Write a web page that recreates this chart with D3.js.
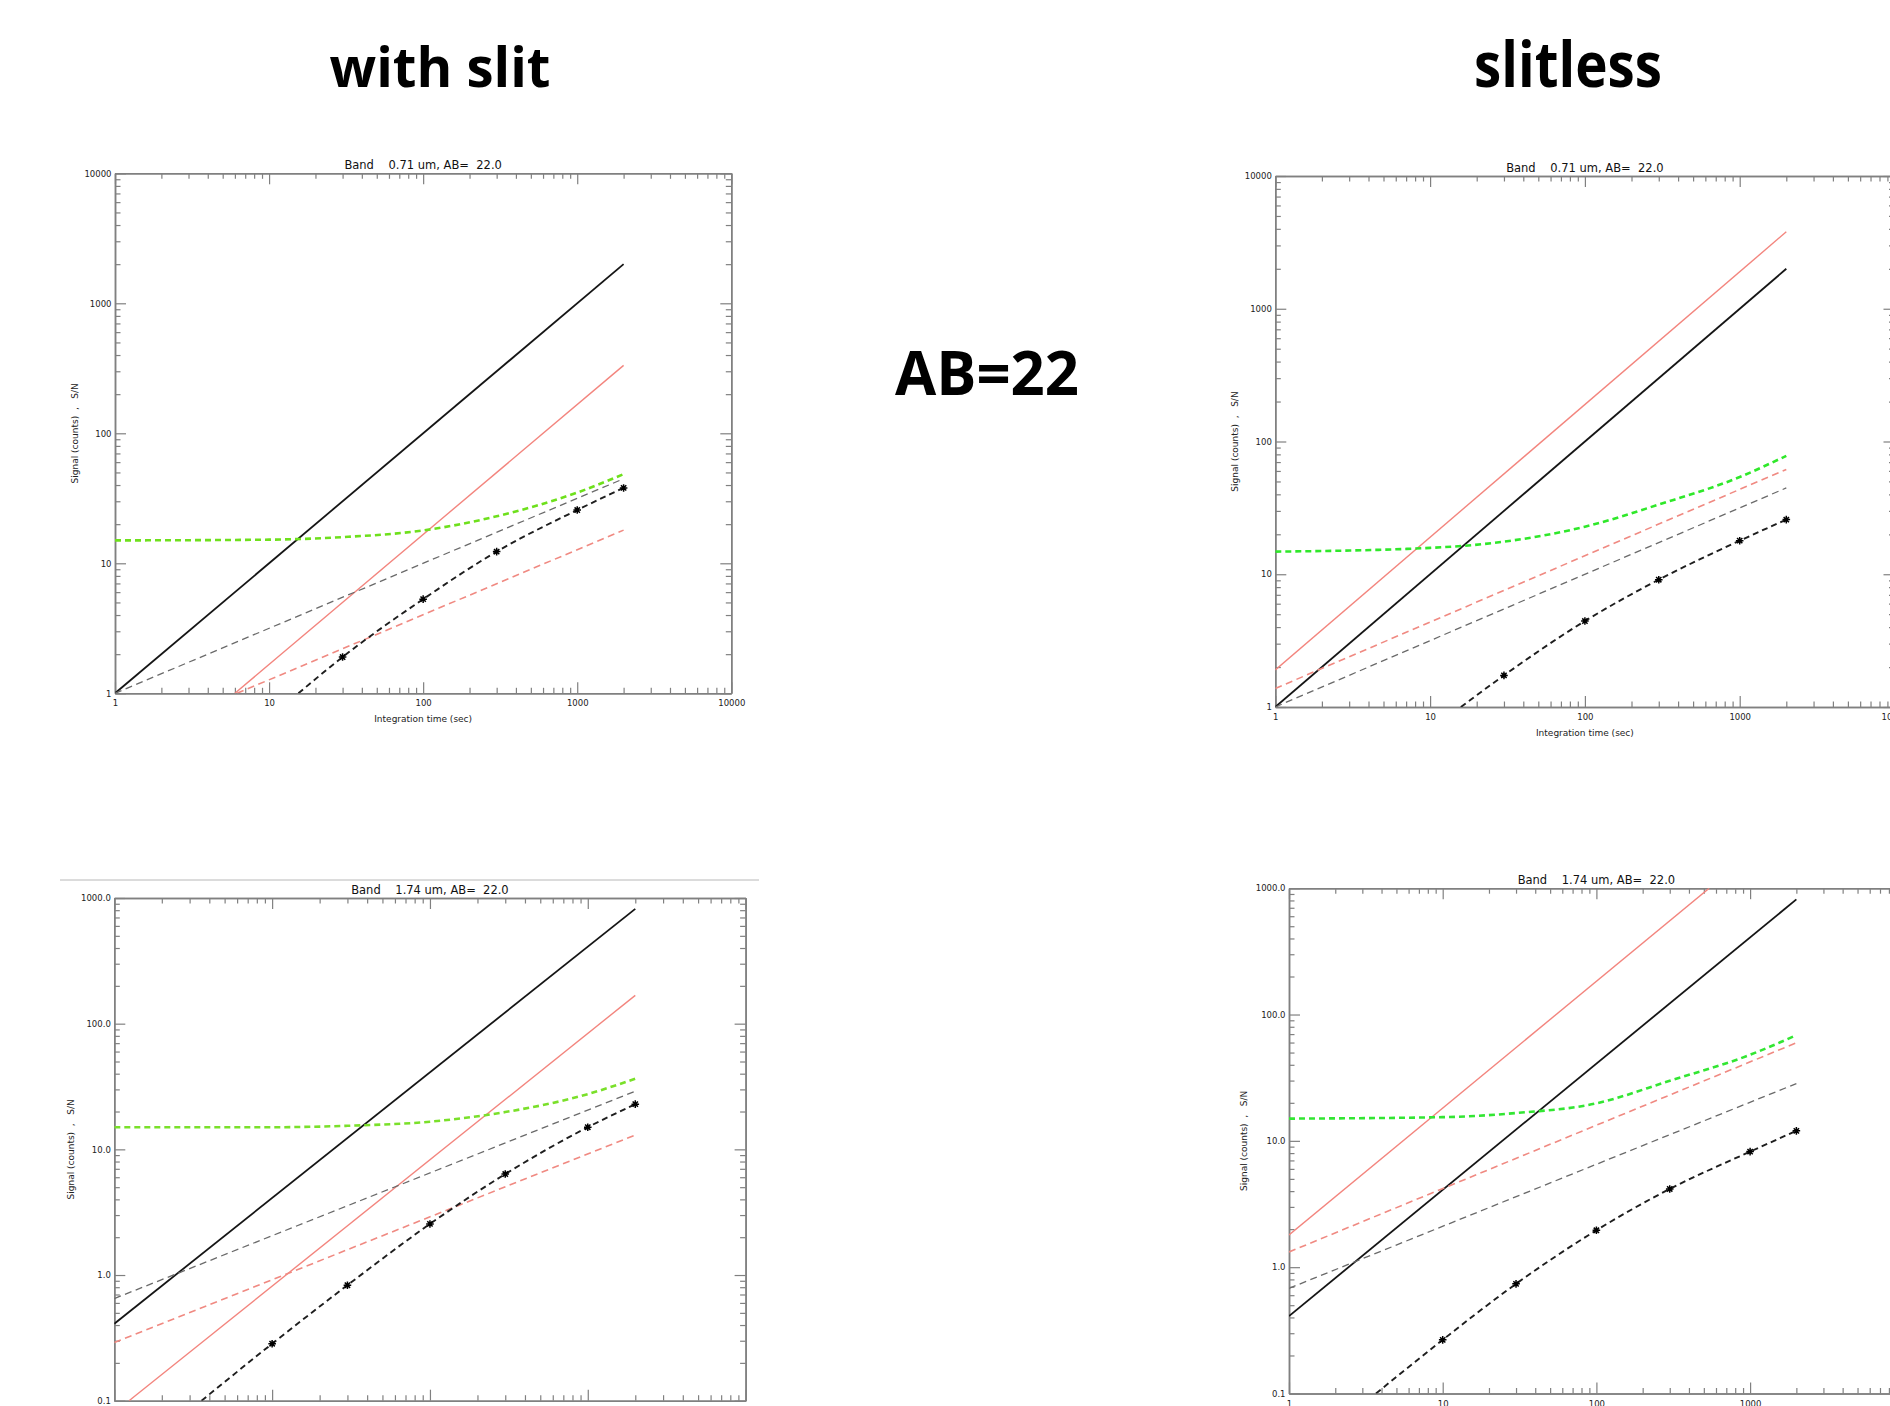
<!DOCTYPE html>
<html>
<head>
<meta charset="utf-8">
<script src="https://cdn.jsdelivr.net/npm/d3@7"></script>
<style>
  html, body { margin: 0; padding: 0; background: #fff; }
  svg { display: block; }
  .tick text { font-family: "DejaVu Sans", sans-serif; font-size: 8.5px; fill: #222; }
</style>
</head>
<body>
<div id="chart"></div>
<script>
// --- Ticks ---
const xMajor = [1, 10, 100, 1000, 10000];
const xLabels = ["1", "10", "100", "1000", "10000"];
const yMajorTop = [1, 10, 100, 1000, 10000];
const yLabelsTop = ["1", "10", "100", "1000", "10000"];
const yMajorBottom = [0.1, 1, 10, 100, 1000];
const yLabelsBottom = ["0.1", "1.0", "10.0", "100.0", "1000.0"];
const markTimes = [10, 30, 100, 300, 1000, 2000];

// --- With slit, 0.71 um : [time (s), value] ---
const slit071Signal = [[1, 1], [2000, 2000]];
const slit071Sky = [[6, 1], [2000, 333]];
const slit071SignalNoise = [[1, 1], [2000, 44.7]];
const slit071SkyNoise = [[6.2, 1], [2000, 18]];
const slit071Total = [[1, 15], [10, 15.2], [30, 15.9], [100, 17.9], [300, 23], [1000, 35], [2000, 48.5]];
const slit071Snr = [[15.5, 1], [30, 1.9], [100, 5.3], [300, 12.3], [1000, 25.7], [2000, 38]];

// --- Slitless, 0.71 um ---
const free071Signal = [[1, 1], [2000, 2000]];
const free071Sky = [[1, 1.9], [2000, 3800]];
const free071SignalNoise = [[1, 1], [2000, 44.7]];
const free071SkyNoise = [[1, 1.38], [2000, 61.6]];
const free071Total = [[1, 14.8], [10, 15.8], [30, 17.6], [100, 22.8], [300, 33.5], [1000, 54], [2000, 78]];
const free071Snr = [[15.8, 1], [30, 1.73], [100, 4.44], [300, 9.1], [1000, 17.9], [2000, 25.8]];

// --- With slit, 1.74 um ---
const slit174Signal = [[1, 0.41], [2000, 820]];
const slit174Sky = [[1.24, 0.1], [2000, 168]];
const slit174SignalNoise = [[1, 0.65], [2000, 29]];
const slit174SkyNoise = [[1, 0.29], [2000, 13]];
const slit174Total = [[1, 15], [10, 15], [30, 15.4], [100, 16.6], [300, 19.8], [1000, 27.5], [2000, 36.5]];
const slit174Snr = [[3.57, 0.1], [10, 0.284], [30, 0.83], [100, 2.55], [300, 6.36], [1000, 15], [2000, 22.9]];

// --- Slitless, 1.74 um ---
const free174Signal = [[1, 0.41], [2000, 815]];
const free174Sky = [[1, 1.8], [542, 1000]];
const free174SignalNoise = [[1, 0.68], [2000, 28.4]];
const free174SkyNoise = [[1, 1.32], [2000, 59.7]];
const free174Total = [[1, 15], [10, 15.4], [30, 16.6], [100, 19.8], [300, 29.9], [1000, 48], [2000, 68.6]];
const free174Snr = [[3.68, 0.1], [10, 0.266], [30, 0.738], [100, 1.96], [300, 4.16], [1000, 8.22], [2000, 12]];

// --- SVG ---
const width = 1890;
const height = 1406;
const svg = d3.select("#chart").append("svg")
  .attr("width", width)
  .attr("height", height);

// --- Panel layout ---
// the lower-left panel is cut by the page edge below its axis, so no x labels there
const panels = [
  { id: "p1", title: "Band    0.71 um, AB=  22.0", x0: 115, x1: 731.3, yb: 693.3, yt: 173.3,
    yDomain: [1, 10000], yMajor: yMajorTop, yLabels: yLabelsTop, green: "#6ee01c", yTitleX: 74.5, xText: true,
    series: [slit071Signal, slit071Sky, slit071SignalNoise, slit071SkyNoise, slit071Total, slit071Snr] },
  { id: "p2", title: "Band    0.71 um, AB=  22.0", x0: 1275.3, x1: 1894.5, yb: 707, yt: 176,
    yDomain: [1, 10000], yMajor: yMajorTop, yLabels: yLabelsTop, green: "#2fe82a", yTitleX: 1235, xText: true,
    series: [free071Signal, free071Sky, free071SignalNoise, free071SkyNoise, free071Total, free071Snr] },
  { id: "p3", title: "Band    1.74 um, AB=  22.0", x0: 114.3, x1: 745.6, yb: 1400.7, yt: 898,
    yDomain: [0.1, 1000], yMajor: yMajorBottom, yLabels: yLabelsBottom, green: "#7ae02a", yTitleX: 70.7, xText: false,
    series: [slit174Signal, slit174Sky, slit174SignalNoise, slit174SkyNoise, slit174Total, slit174Snr] },
  { id: "p4", title: "Band    1.74 um, AB=  22.0", x0: 1289, x1: 1903.8, yb: 1393.5, yt: 888.2,
    yDomain: [0.1, 1000], yMajor: yMajorBottom, yLabels: yLabelsBottom, green: "#33e633", yTitleX: 1244, xText: true,
    series: [free174Signal, free174Sky, free174SignalNoise, free174SkyNoise, free174Total, free174Snr] }
];

// --- Styles of the six curves (same order as series) ---
function styles(green) {
  return [
    { stroke: "#151515", width: 1.8, dash: null },
    { stroke: "#f3857e", width: 1.4, dash: null },
    { stroke: "#6a6a6a", width: 1.3, dash: "7,4.5" },
    { stroke: "#f08a82", width: 1.6, dash: "7,4.5" },
    { stroke: green, width: 2.6, dash: "6,4" },
    { stroke: "#1e1e1e", width: 1.9, dash: "6,4" }
  ];
}

// --- Minor ticks 2..9 of each decade ---
function minorTicks(domain) {
  const out = [];
  for (let d = domain[0]; d < domain[1]; d *= 10) {
    for (let k = 2; k <= 9; k++) out.push(+(d * k).toPrecision(6));
  }
  return out;
}

const frameColor = "#808080";
const majorLen = 11;
const minorLen = 5.5;

function styleAxis(g) {
  g.select(".domain").attr("stroke", frameColor).attr("stroke-width", 1.5);
  g.selectAll(".tick line").attr("stroke", frameColor).attr("stroke-width", 1.2);
}

panels.forEach((p) => {
  const x = d3.scaleLog().domain([1, 10000]).range([p.x0, p.x1]);
  const y = d3.scaleLog().domain(p.yDomain).range([p.yb, p.yt]);
  const g = svg.append("g");

  // --- Clip to plot area ---
  svg.append("clipPath").attr("id", "clip-" + p.id)
    .append("rect")
    .attr("x", p.x0).attr("y", p.yt)
    .attr("width", p.x1 - p.x0).attr("height", p.yb - p.yt);

  const xMinor = minorTicks([1, 10000]);
  const yMinor = minorTicks(p.yDomain);

  // --- Axes (ticks pointing inward, IDL style) ---
  g.append("g").attr("transform", `translate(0,${p.yb})`)
    .call(d3.axisBottom(x).tickValues(xMinor).tickSize(-minorLen).tickFormat("").tickSizeOuter(0)).call(styleAxis);
  g.append("g").attr("transform", `translate(0,${p.yb})`)
    .call(d3.axisBottom(x).tickValues(xMajor).tickSize(-majorLen).tickPadding(7)
      .tickFormat((d, i) => (p.xText ? xLabels[i] : "")).tickSizeOuter(0)).call(styleAxis);
  g.append("g").attr("transform", `translate(0,${p.yt})`)
    .call(d3.axisTop(x).tickValues(xMinor).tickSize(-minorLen).tickFormat("").tickSizeOuter(0)).call(styleAxis);
  g.append("g").attr("transform", `translate(0,${p.yt})`)
    .call(d3.axisTop(x).tickValues(xMajor).tickSize(-majorLen).tickFormat("").tickSizeOuter(0)).call(styleAxis);

  g.append("g").attr("transform", `translate(${p.x0},0)`)
    .call(d3.axisLeft(y).tickValues(yMinor).tickSize(-minorLen).tickFormat("").tickSizeOuter(0)).call(styleAxis);
  g.append("g").attr("transform", `translate(${p.x0},0)`)
    .call(d3.axisLeft(y).tickValues(p.yMajor).tickSize(-majorLen).tickPadding(3.5)
      .tickFormat((d, i) => p.yLabels[i]).tickSizeOuter(0)).call(styleAxis);
  g.append("g").attr("transform", `translate(${p.x1},0)`)
    .call(d3.axisRight(y).tickValues(yMinor).tickSize(-minorLen).tickFormat("").tickSizeOuter(0)).call(styleAxis);
  g.append("g").attr("transform", `translate(${p.x1},0)`)
    .call(d3.axisRight(y).tickValues(p.yMajor).tickSize(-majorLen).tickFormat("").tickSizeOuter(0)).call(styleAxis);

  // --- Titles ---
  g.append("text")
    .attr("x", (p.x0 + p.x1) / 2).attr("y", p.yt - 4.5)
    .attr("text-anchor", "middle")
    .style("white-space", "pre")
    .style("font-family", "DejaVu Sans, sans-serif")
    .style("font-size", "11.5px")
    .style("fill", "#111")
    .text(p.title);

  if (p.xText) {
    g.append("text")
      .attr("x", (p.x0 + p.x1) / 2).attr("y", p.yb + 29)
      .attr("text-anchor", "middle")
      .style("font-family", "DejaVu Sans, sans-serif")
      .style("font-size", "9px")
      .style("fill", "#222")
      .text("Integration time (sec)");
  }

  g.append("text")
    .attr("transform", `translate(${p.yTitleX},${(p.yt + p.yb) / 2}) rotate(-90)`)
    .attr("text-anchor", "middle")
    .attr("dy", "0.35em")
    .style("white-space", "pre")
    .style("font-family", "DejaVu Sans, sans-serif")
    .style("font-size", "9px")
    .style("fill", "#222")
    .text("Signal (counts)  ,   S/N");

  // --- Curves ---
  const line = d3.line()
    .x((d) => x(d[0]))
    .y((d) => y(d[1]))
    .curve(d3.curveMonotoneX);

  const st = styles(p.green);
  const plot = g.append("g").attr("clip-path", `url(#clip-${p.id})`);

  plot.selectAll("path.curve")
    .data(p.series)
    .join("path")
    .attr("class", "curve")
    .attr("d", line)
    .attr("fill", "none")
    .attr("stroke", (d, i) => st[i].stroke)
    .attr("stroke-width", (d, i) => st[i].width)
    .attr("stroke-dasharray", (d, i) => st[i].dash);

  // --- Asterisk markers on S/N curve ---
  const r = 3.8, a = r * 0.7;
  const star = `M${-r},0L${r},0M0,${-r}L0,${r}M${-a},${-a}L${a},${a}M${-a},${a}L${a},${-a}`;
  const snr = p.series[5].filter((d) => markTimes.includes(d[0]));
  plot.selectAll("path.star")
    .data(snr)
    .join("path")
    .attr("class", "star")
    .attr("transform", (d) => `translate(${x(d[0])},${y(d[1])})`)
    .attr("d", star)
    .attr("fill", "none")
    .attr("stroke", "#000")
    .attr("stroke-width", 1.5);
});

// --- Separator line above the lower-left panel ---
svg.append("line")
  .attr("x1", 60).attr("x2", 759)
  .attr("y1", 880).attr("y2", 880)
  .attr("stroke", "#b8b8b8")
  .attr("stroke-width", 1);

// --- Big headings ---
const headings = [
  { text: "with slit", x: 440, y: 87, size: 55, len: 221 },
  { text: "slitless", x: 1568, y: 87, size: 63, len: 188 },
  { text: "AB=22", x: 987, y: 395, size: 60, len: 184 }
];
svg.selectAll("text.heading")
  .data(headings)
  .join("text")
  .attr("class", "heading")
  .attr("x", (d) => d.x)
  .attr("y", (d) => d.y)
  .attr("text-anchor", "middle")
  .attr("textLength", (d) => d.len)
  .attr("lengthAdjust", "spacingAndGlyphs")
  .style("font-family", "Open Sans, sans-serif")
  .style("font-weight", 700)
  .style("font-size", (d) => d.size + "px")
  .style("fill", "#000")
  .text((d) => d.text);
</script>
</body>
</html>
